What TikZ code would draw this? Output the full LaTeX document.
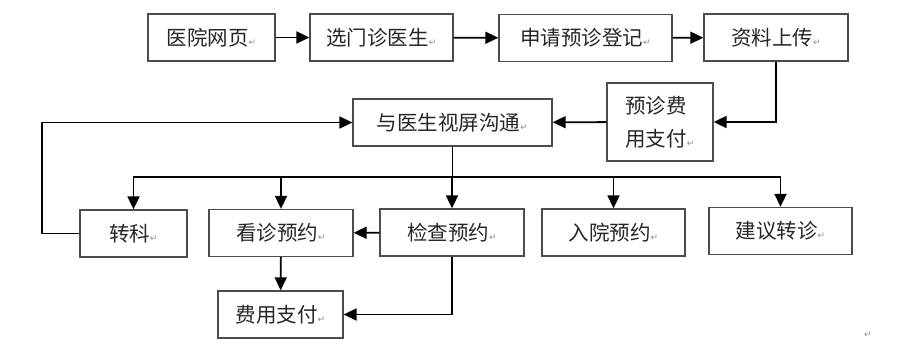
\documentclass[tikz,border=0pt]{standalone}
\usepackage{fontspec}
\setmainfont{Noto Sans CJK SC}
\newfontfamily\markfont{DejaVu Sans}
\usetikzlibrary{arrows.meta}
\newcommand{\pmark}{{\markfont\fontsize{9}{9}\selectfont\textcolor{black!45}{↵}}}

\begin{document}
\begin{tikzpicture}[x=1pt, y=-1pt, >={Triangle[width=12pt,length=13pt]},
  box/.style={draw=black!70, line width=1.3pt, minimum height=47pt, inner sep=0pt,
    font=\fontsize{20.5}{33}\selectfont, text=black!85},
  link/.style={->, line width=1.8pt}]
\path[use as bounding box] (0,0) rectangle (915,347);
% first row
\node[box, minimum width=127pt] (web) at (211.5,37.5) {医院网页\pmark};
\node[box, minimum width=143pt] (pick) at (381.5,37.5) {选门诊医生\pmark};
\node[box, minimum width=173pt] (reg) at (585.5,38) {申请预诊登记\pmark};
\node[box, minimum width=144pt] (upload) at (776,37.5) {资料上传\pmark};
% second row
\node[box, minimum width=106pt, minimum height=78pt, align=left] (prefee) at (660,122) {预诊费\\用支付\pmark};
\node[box, minimum width=199pt] (talk) at (452.5,122.5) {与医生视屏沟通\pmark};
% third row
\node[box, minimum width=107pt] (dept) at (133.5,233.5) {转科\pmark};
\node[box, minimum width=144pt] (visit) at (281,233) {看诊预约\pmark};
\node[box, minimum width=144pt] (check) at (452,232.5) {检查预约\pmark};
\node[box, minimum width=143pt] (admit) at (613.5,232.5) {入院预约\pmark};
\node[box, minimum width=143pt] (refer) at (780.5,231) {建议转诊\pmark};
\node[box, minimum width=125pt] (pay) at (280.5,314.5) {费用支付\pmark};
\coordinate (bus) at (453,177);
\node[inner sep=0pt] (endmark) at (868,335) {\pmark};

\draw[link] (web) -- (pick);
\draw[link] (pick) -- (reg);
\draw[link] (reg) -- (upload);
\draw[link] (upload.south) |- (prefee.east);
\draw[link] (prefee) -- (talk);
\foreach \to in {dept, visit, check, admit, refer}
  \draw[link] (talk.south) -- (talk.south |- bus) -| (\to.north);
\draw[link] (dept.west) -- ++(-37,0) |- (talk.west);
\draw[link] (check) -- (visit);
\draw[link] (visit) -- (pay);
\draw[link] (check.south) |- (pay.east);
\end{tikzpicture}
\end{document}
